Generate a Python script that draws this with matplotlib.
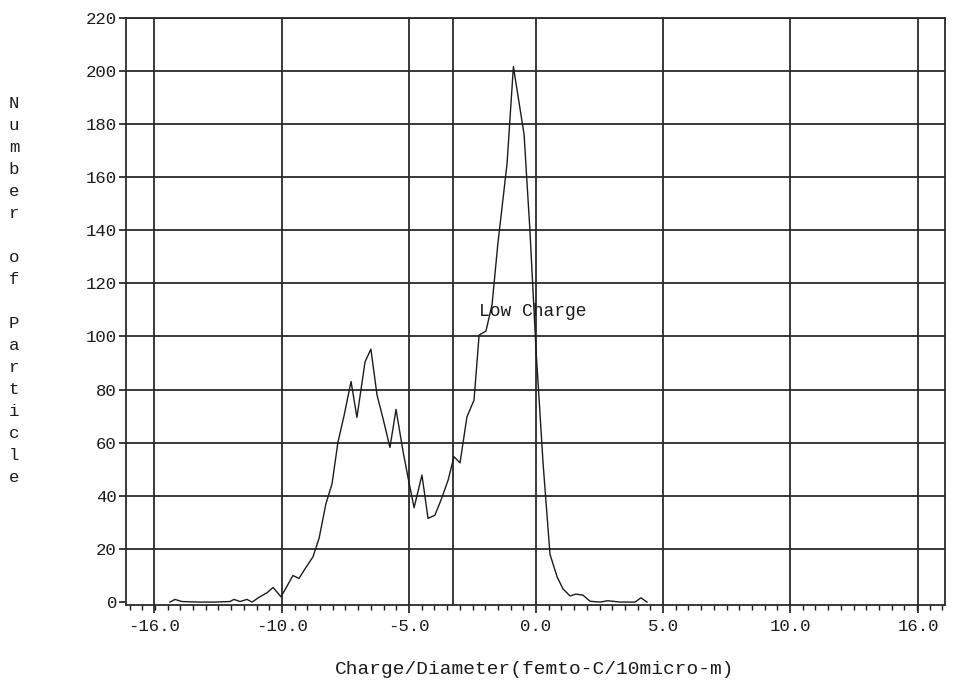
import matplotlib
matplotlib.use("Agg")
import matplotlib.pyplot as plt
import numpy as np
from matplotlib.ticker import MultipleLocator, FixedLocator

# ---- data ----
charge = [-14.41, -14.21, -13.94, -13.23, -12.64, -12.05, -11.89, -11.65, -11.38, -11.18,
          -10.87, -10.59, -10.35, -10.04, -9.80, -9.57, -9.33, -9.06, -8.78, -8.54,
          -8.27, -8.03, -7.80, -7.56, -7.28, -7.05, -6.73, -6.50, -6.26, -6.02,
          -5.75, -5.51, -5.24, -5.04, -4.80, -4.49, -4.25, -3.98, -3.74, -3.46,
          -3.23, -2.99, -2.72, -2.44, -2.24, -1.97, -1.73, -1.50, -1.14, -0.89,
          -0.47, -0.24, 0.00, 0.28, 0.55, 0.83, 1.06, 1.34, 1.57, 1.85,
          2.13, 2.52, 2.83, 3.31, 3.90, 4.13, 4.37]
count = [0.0, 1.0, 0.2, 0.0, 0.0, 0.2, 1.0, 0.2, 1.0, 0.0,
         2.0, 3.5, 5.5, 2.0, 6.0, 10.0, 8.9, 13.0, 17.0, 24.0,
         37.0, 44.5, 60.0, 70.0, 83.0, 69.5, 90.4, 95.2, 78.0, 69.0,
         58.2, 72.5, 57.0, 47.0, 35.5, 47.8, 31.5, 32.7, 38.4, 45.9,
         54.7, 52.4, 69.7, 76.0, 100.5, 102.0, 112.0, 135.0, 165.0, 201.5,
         176.0, 140.0, 95.0, 52.0, 18.0, 9.5, 5.0, 2.3, 3.0, 2.6,
         0.3, 0.0, 0.5, 0.0, 0.0, 1.6, 0.0]

x_tick_pos = [-15.05, -10.0, -5.0, 0.0, 5.0, 10.0, 15.05]
x_tick_labels = ["-16.0", "-10.0", "-5.0", "0.0", "5.0", "10.0", "16.0"]
y_ticks = [0, 20, 40, 60, 80, 100, 120, 140, 160, 180, 200, 220]
threshold = -3.27
annotation = "Low Charge"
x_label = "Charge/Diameter(femto-C/10micro-m)"
y_label = "Number of Particle"

FONT = ["Liberation Mono", "DejaVu Sans Mono"]
INK = "#1c1c1c"

W, H = 969, 686
fig = plt.figure(figsize=(W / 100, H / 100), dpi=100)
fig.patch.set_facecolor("white")
L, R, T, B = 126, 945, 17.5, 605
ax = fig.add_axes([L / W, 1 - B / H, (R - L) / W, (B - T) / H])

ax.set_xlim(-16.14, 16.10)
ax.set_ylim(-1.1, 220)

# grid
for xv in x_tick_pos:
    ax.axvline(xv, color="#2a2a2a", lw=1.3, zorder=1)
ax.axvline(threshold, color="#2a2a2a", lw=1.3, zorder=1)
for yv in y_ticks[1:]:
    ax.axhline(yv, color="#2a2a2a", lw=1.3, zorder=1)

ax.plot(charge, count, color=INK, lw=1.0, zorder=3)

ax.text(-2.23, 107.6, annotation, fontsize=13, family=FONT, color=INK,
        ha="left", va="baseline", zorder=4)

# ticks
ax.xaxis.set_major_locator(FixedLocator(x_tick_pos))
ax.set_xticklabels(x_tick_labels)
ax.xaxis.set_minor_locator(MultipleLocator(0.5))
ax.yaxis.set_major_locator(FixedLocator(y_ticks))
ax.set_yticklabels([str(v) for v in y_ticks])
ax.tick_params(axis="x", which="major", direction="out", length=6, width=1.2,
               pad=4, labelsize=12.5, colors=INK)
ax.tick_params(axis="x", which="minor", direction="out", length=3.5, width=1.0, colors=INK)
ax.tick_params(axis="y", which="major", direction="out", length=5, width=1.2,
               pad=1.5, labelsize=12.5, colors=INK)
for lab in ax.get_xticklabels() + ax.get_yticklabels():
    lab.set_family(FONT)

for s in ax.spines.values():
    s.set_color("#2a2a2a")
    s.set_linewidth(1.3)

# x label
fig.text(535 / W, 1 - 674 / H, x_label, fontsize=14, family=FONT, color=INK,
         ha="center", va="baseline")

# y label, one letter per line
for i, ch in enumerate(y_label):
    if ch == " ":
        continue
    fig.text(14 / W, 1 - (108.5 + 22 * i) / H, ch, fontsize=12.5, family=FONT,
             color=INK, ha="center", va="baseline")

fig.savefig("out.png", dpi=100, facecolor="white")
